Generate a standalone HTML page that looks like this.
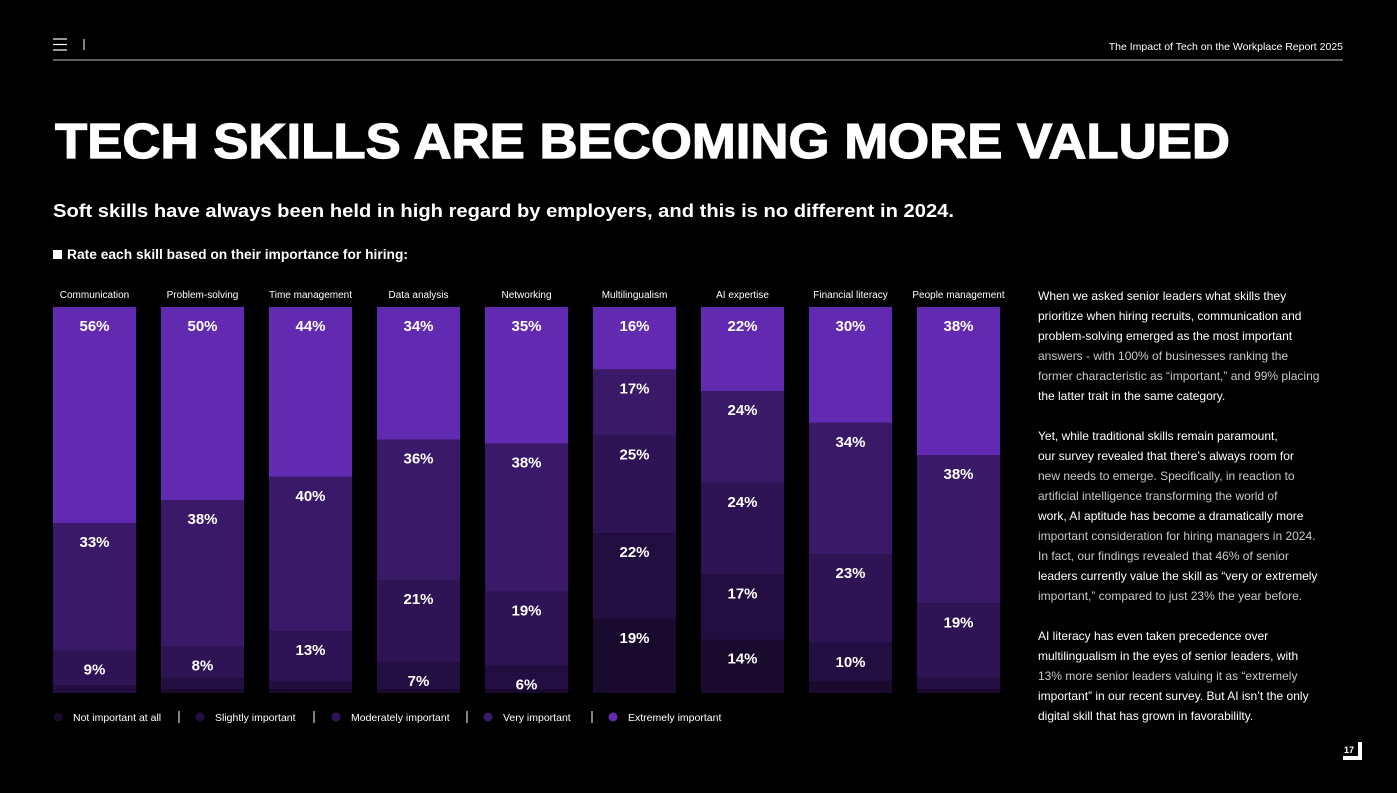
<!DOCTYPE html>
<html><head><meta charset="utf-8"><style>
html,body{margin:0;padding:0;background:#000;}
svg{display:block;font-family:"Liberation Sans",sans-serif;}
</style></head><body>
<svg id="chart" width="1397" height="793" viewBox="0 0 1397 793" xmlns="http://www.w3.org/2000/svg">
<rect width="1397" height="793" fill="#000"/>
<g stroke="#fff" stroke-width="1.2">
<line x1="53" y1="39" x2="67" y2="39"/><line x1="53" y1="44.5" x2="67" y2="44.5"/><line x1="53" y1="50" x2="67" y2="50"/>
</g>
<line x1="84" y1="39" x2="84" y2="50" stroke="#fff" stroke-width="1"/>
<line x1="53" y1="60" x2="1343" y2="60" stroke="#bbb" stroke-width="1"/>
<text x="1343" y="50" text-anchor="end" fill="#fff" font-size="10.5">The Impact of Tech on the Workplace Report 2025</text>
<text x="55" y="158" fill="#fff" font-size="49" font-weight="bold" stroke="#fff" stroke-width="1.2" textLength="1175" lengthAdjust="spacingAndGlyphs">TECH SKILLS ARE BECOMING MORE VALUED</text>
<text x="53" y="217" fill="#fff" font-size="18.5" font-weight="bold" textLength="901" lengthAdjust="spacingAndGlyphs">Soft skills have always been held in high regard by employers, and this is no different in 2024.</text>
<rect x="53" y="250" width="9" height="9" fill="#fff"/>
<text x="67" y="259" fill="#fff" font-size="13.5" font-weight="bold" textLength="341" lengthAdjust="spacingAndGlyphs">Rate each skill based on their importance for hiring:</text>
<g id="bars"></g>
<g id="legend"></g>
<g id="para" font-size="12"></g>
<g>
<path d="M1358 742 L1362 742 L1362 760 L1343 760 L1343 756 L1358 756 Z" fill="#fff"/>
<text x="1344" y="753" fill="#fff" font-size="9" font-weight="bold">17</text>
</g>
</svg>
<script>
const categories=["Communication","Problem-solving","Time management","Data analysis","Networking","Multilingualism","AI expertise","Financial literacy","People management"];
const seriesNames=["Not important at all","Slightly important","Moderately important","Very important","Extremely important"];
const notAtAll=[0,1,1,1,1,19,14,3,1];
const slightly=[2,3,2,7,6,22,17,10,3];
const moderately=[9,8,13,21,19,25,24,23,19];
const veryImp=[33,38,40,36,38,17,24,34,38];
const extremely=[56,50,44,34,35,16,22,30,38];
const colors=["#1a0a2e","#220e40","#2e1454","#3a1a68","#622ab0"];
const NS="http://www.w3.org/2000/svg";
const series=[notAtAll,slightly,moderately,veryImp,extremely];
const plotTop=307,plotBottom=693,x0=53,step=108,bw=83;
function xPos(i){return x0+i*step;}
function yScale(frac){return plotBottom-frac*(plotBottom-plotTop);}
const g=document.getElementById('bars');
categories.forEach((c,i)=>{
  const t=document.createElementNS(NS,'text');
  
  
  t.setAttribute('x',xPos(i)+bw/2);t.setAttribute('y',298);
  t.setAttribute('text-anchor','middle');t.setAttribute('fill','#fff');t.setAttribute('font-size','10');
  t.textContent=c;g.appendChild(t);
  let total=0;series.forEach(s=>total+=s[i]);
  let acc=0;
  series.forEach((s,k)=>{
    const v=s[i];if(v<=0)return;
    const yb=yScale(acc/total),yt=yScale((acc+v)/total);acc+=v;
    const r=document.createElementNS(NS,'rect');
    
    
    r.setAttribute('x',xPos(i));r.setAttribute('y',yt);r.setAttribute('width',bw);r.setAttribute('height',yb-yt);
    r.setAttribute('fill',colors[k]);g.appendChild(r);
    if(v>=6){
      const l=document.createElementNS(NS,'text');
      
      
      l.setAttribute('x',xPos(i)+bw/2);l.setAttribute('y',yt+24);
      l.setAttribute('text-anchor','middle');l.setAttribute('fill','#fff');l.setAttribute('font-size','15');l.setAttribute('font-weight','bold');
      l.textContent=v+'%';g.appendChild(l);
    }
  });
});
const legendX=[58,200,336,488,613];
const sepX=[179,314,467,592];
const lg=document.getElementById('legend');
seriesNames.forEach((n,k)=>{
  const c=document.createElementNS(NS,'circle');
  
  
  c.setAttribute('cx',legendX[k]);c.setAttribute('cy',717);c.setAttribute('r',4.5);c.setAttribute('fill',colors[k]);lg.appendChild(c);
  const t=document.createElementNS(NS,'text');
  
  
  t.setAttribute('x',legendX[k]+15);t.setAttribute('y',721);t.setAttribute('fill','#fff');t.setAttribute('font-size','10.5');
  t.textContent=n;lg.appendChild(t);
});
sepX.forEach(x=>{
  const l=document.createElementNS(NS,'line');
  
  
  l.setAttribute('x1',x);l.setAttribute('x2',x);l.setAttribute('y1',711);l.setAttribute('y2',723);l.setAttribute('stroke','#fff');lg.appendChild(l);
});
const lines=[
["When we asked senior leaders what skills they",1],
["prioritize when hiring recruits, communication and",1],
["problem-solving emerged as the most important",1],
["answers - with 100% of businesses ranking the",0],
["former characteristic as “important,” and 99% placing",0],
["the latter trait in the same category.",1],
["",1],
["Yet, while traditional skills remain paramount,",1],
["our survey revealed that there’s always room for",1],
["new needs to emerge. Specifically, in reaction to",0],
["artificial intelligence transforming the world of",0],
["work, AI aptitude has become a dramatically more",1],
["important consideration for hiring managers in 2024.",0],
["In fact, our findings revealed that 46% of senior",0],
["leaders currently value the skill as “very or extremely",1],
["important,” compared to just 23% the year before.",0],
["",1],
["AI literacy has even taken precedence over",1],
["multilingualism in the eyes of senior leaders, with",1],
["13% more senior leaders valuing it as “extremely",0],
["important” in our recent survey. But AI isn’t the only",1],
["digital skill that has grown in favorabililty.",1]];
const pg=document.getElementById('para');
lines.forEach((ln,i)=>{
  if(!ln[0])return;
  const t=document.createElementNS(NS,'text');
  
  
  t.setAttribute('x',1038);t.setAttribute('y',300+i*20);
  t.setAttribute('fill',ln[1]?'#fff':'#c8c8c8');
  t.textContent=ln[0];pg.appendChild(t);
});
</script>
</body></html>
